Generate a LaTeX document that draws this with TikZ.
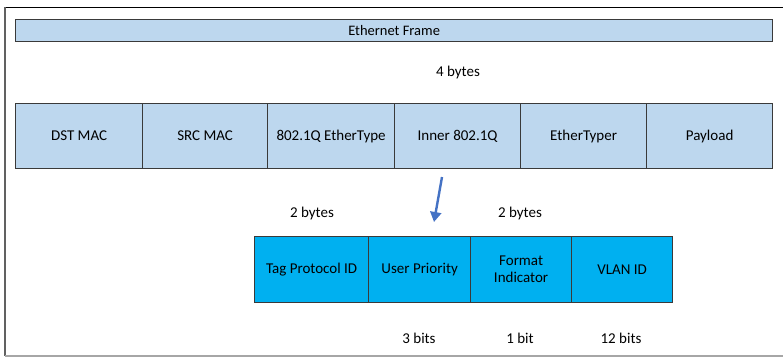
\documentclass[tikz,border=0pt]{standalone}
\usepackage{fontspec}
\setmainfont{Carlito}
\usetikzlibrary{arrows.meta}
\definecolor{lightblue}{HTML}{BDD7EE}
\definecolor{cyanfill}{HTML}{00B0F0}
\definecolor{arrowblue}{HTML}{4472C4}
\definecolor{edgegrey}{HTML}{3A3A3A}
\begin{document}
\begin{tikzpicture}[x=1pt,y=-1pt,
  cell/.style={draw=edgegrey, line width=1.2pt, inner sep=0pt, anchor=north west,
    font=\fontsize{15}{17}\selectfont, align=center},
  topcell/.style={cell, fill=lightblue, minimum height=65pt},
  tagcell/.style={cell, fill=cyanfill, minimum height=66pt},
  lbl/.style={font=\fontsize{15}{17}\selectfont, inner sep=0pt}]
\useasboundingbox (0,0) rectangle (783,357);
% outer frame
\draw[black, line width=1pt] (5,7) -- (783,7);
\draw[edgegrey!80, line width=2pt] (5,7) -- (5,356);
\draw[gray!70, line width=1.2pt] (5,356) -- (783,356);
% Ethernet frame bar
\node[cell, fill=lightblue, minimum width=757pt, minimum height=22pt, font=\fontsize{14.5}{16}\selectfont] (frame) at (15,19) {Ethernet Frame};
\node[lbl] (fourbytes) at (458,72) {4 bytes};
% main row
\node[topcell, minimum width=127pt] (dst) at (15,103) {DST MAC};
\node[topcell, minimum width=125pt] (src) at (142,103) {SRC MAC};
\node[topcell, minimum width=127pt] (etype) at (267,103) {802.1Q EtherType};
\node[topcell, minimum width=126pt] (inner) at (394,103) {Inner 802.1Q};
\node[topcell, minimum width=126pt] (ethertyper) at (520,103) {EtherTyper};
\node[topcell, minimum width=126pt] (payload) at (646,103) {Payload};
% arrow
\coordinate (arrstart) at (442,177);
\coordinate (arrend) at (434,222);
\draw[arrowblue, line width=2.4pt, -{Triangle[length=10pt,width=11pt]}] (arrstart) -- (arrend);
% byte labels
\node[lbl] (twobytesA) at (312,213) {2 bytes};
\node[lbl] (twobytesB) at (520,213) {2 bytes};
% tag row
\node[tagcell, minimum width=114pt] (tpid) at (254,236) {Tag Protocol ID};
\node[tagcell, minimum width=102pt] (prio) at (368,236) {User Priority};
\node[tagcell, minimum width=101pt] (fmt) at (470,236) {Format\\Indicator};
\node[tagcell, minimum width=101pt] (vlan) at (571,236) {VLAN ID};
% bit labels
\node[lbl] (threebits) at (419,338) {3 bits};
\node[lbl] (onebit) at (520,338) {1 bit};
\node[lbl] (twelvebits) at (621,338) {12 bits};
\end{tikzpicture}
\end{document}
